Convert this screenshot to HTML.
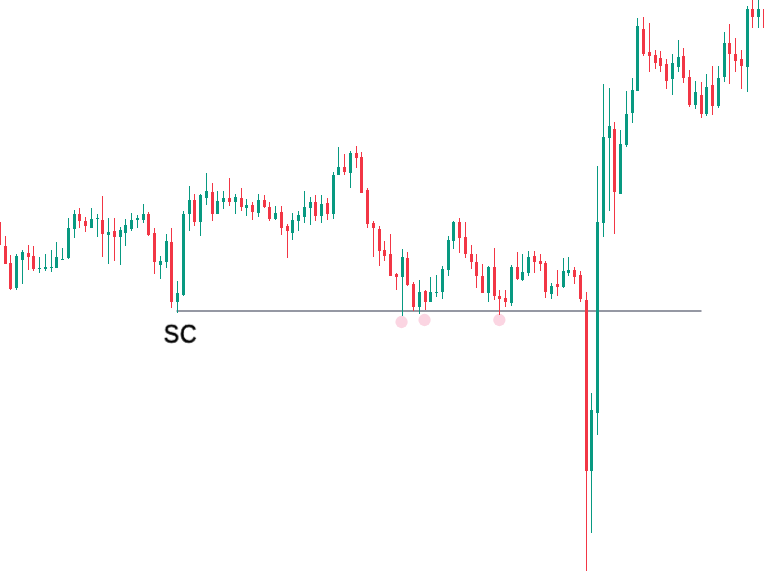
<!DOCTYPE html>
<html><head><meta charset="utf-8"><title>SC chart</title>
<style>
html,body{margin:0;padding:0;background:#fff;}
#c{position:relative;width:765px;height:576px;overflow:hidden;background:#fff;}
svg{position:absolute;left:0;top:0;}
#sc{position:absolute;left:163px;top:319px;font-family:"Liberation Sans",Arial,sans-serif;font-size:25px;line-height:28px;color:#000;letter-spacing:0.8px;-webkit-text-stroke:0.6px #000;transform-origin:0 0;transform:translate(0.65px,-0.3px) scale(0.927,1.03);will-change:transform;}
</style></head><body>
<div id="c">
<svg width="765" height="576" viewBox="0 0 765 576">
<g>
<circle cx="401.55" cy="322" r="6.15" fill="#fbd5e2"/>
<circle cx="424.55" cy="320" r="6.15" fill="#fbd5e2"/>
<circle cx="499.35" cy="320" r="6.15" fill="#fbd5e2"/>
<rect x="176.5" y="310" width="525" height="2" fill="#9598a3"/>
</g>
<g shape-rendering="crispEdges">
<rect x="0" y="222" width="1" height="23" fill="#f23645"/>
<rect x="5" y="236" width="1" height="28" fill="#f23645"/>
<rect x="4" y="246" width="3" height="18" fill="#f23645"/>
<rect x="10" y="255" width="1" height="35" fill="#f23645"/>
<rect x="9" y="263" width="3" height="26" fill="#f23645"/>
<rect x="16" y="254" width="1" height="36" fill="#089981"/>
<rect x="15" y="256" width="3" height="32" fill="#089981"/>
<rect x="22" y="250" width="1" height="34" fill="#089981"/>
<rect x="21" y="252" width="3" height="8" fill="#089981"/>
<rect x="28" y="245" width="1" height="25" fill="#f23645"/>
<rect x="27" y="253" width="3" height="4" fill="#f23645"/>
<rect x="33" y="246" width="1" height="25" fill="#f23645"/>
<rect x="32" y="256" width="3" height="13" fill="#f23645"/>
<rect x="39" y="257" width="1" height="16" fill="#089981"/>
<rect x="38" y="268" width="3" height="1" fill="#089981"/>
<rect x="45" y="254" width="1" height="17" fill="#089981"/>
<rect x="44" y="267" width="3" height="2" fill="#089981"/>
<rect x="51" y="250" width="1" height="22" fill="#089981"/>
<rect x="50" y="267" width="3" height="1" fill="#089981"/>
<rect x="56" y="242" width="1" height="26" fill="#089981"/>
<rect x="55" y="257" width="3" height="11" fill="#089981"/>
<rect x="62" y="248" width="1" height="12" fill="#089981"/>
<rect x="61" y="259" width="3" height="1" fill="#089981"/>
<rect x="68" y="218" width="1" height="41" fill="#089981"/>
<rect x="67" y="228" width="3" height="30" fill="#089981"/>
<rect x="74" y="210" width="1" height="28" fill="#089981"/>
<rect x="73" y="214" width="3" height="15" fill="#089981"/>
<rect x="79" y="208" width="1" height="20" fill="#f23645"/>
<rect x="78" y="214" width="3" height="7" fill="#f23645"/>
<rect x="85" y="217" width="1" height="15" fill="#f23645"/>
<rect x="84" y="221" width="3" height="5" fill="#f23645"/>
<rect x="91" y="208" width="1" height="20" fill="#089981"/>
<rect x="90" y="219" width="3" height="9" fill="#089981"/>
<rect x="97" y="214" width="1" height="23" fill="#089981"/>
<rect x="96" y="218" width="3" height="1" fill="#089981"/>
<rect x="102" y="196" width="1" height="61" fill="#f23645"/>
<rect x="101" y="220" width="3" height="14" fill="#f23645"/>
<rect x="108" y="218" width="1" height="46" fill="#089981"/>
<rect x="107" y="232" width="3" height="3" fill="#089981"/>
<rect x="114" y="218" width="1" height="43" fill="#f23645"/>
<rect x="113" y="231" width="3" height="6" fill="#f23645"/>
<rect x="120" y="227" width="1" height="38" fill="#089981"/>
<rect x="119" y="230" width="3" height="7" fill="#089981"/>
<rect x="125" y="219" width="1" height="27" fill="#089981"/>
<rect x="124" y="225" width="3" height="8" fill="#089981"/>
<rect x="131" y="213" width="1" height="18" fill="#089981"/>
<rect x="130" y="220" width="3" height="9" fill="#089981"/>
<rect x="137" y="215" width="1" height="13" fill="#089981"/>
<rect x="136" y="218" width="3" height="2" fill="#089981"/>
<rect x="143" y="204" width="1" height="19" fill="#089981"/>
<rect x="142" y="214" width="3" height="6" fill="#089981"/>
<rect x="148" y="212" width="1" height="24" fill="#f23645"/>
<rect x="147" y="214" width="3" height="21" fill="#f23645"/>
<rect x="154" y="228" width="1" height="46" fill="#f23645"/>
<rect x="153" y="233" width="3" height="29" fill="#f23645"/>
<rect x="160" y="256" width="1" height="23" fill="#089981"/>
<rect x="159" y="261" width="3" height="4" fill="#089981"/>
<rect x="166" y="234" width="1" height="34" fill="#089981"/>
<rect x="165" y="241" width="3" height="21" fill="#089981"/>
<rect x="171" y="228" width="1" height="80" fill="#f23645"/>
<rect x="170" y="242" width="3" height="60" fill="#f23645"/>
<rect x="177" y="281" width="1" height="32" fill="#089981"/>
<rect x="176" y="293" width="3" height="9" fill="#089981"/>
<rect x="183" y="211" width="1" height="85" fill="#089981"/>
<rect x="182" y="214" width="3" height="81" fill="#089981"/>
<rect x="189" y="186" width="1" height="45" fill="#089981"/>
<rect x="188" y="200" width="3" height="14" fill="#089981"/>
<rect x="194" y="194" width="1" height="32" fill="#f23645"/>
<rect x="193" y="200" width="3" height="22" fill="#f23645"/>
<rect x="200" y="194" width="1" height="42" fill="#089981"/>
<rect x="199" y="195" width="3" height="27" fill="#089981"/>
<rect x="206" y="173" width="1" height="32" fill="#089981"/>
<rect x="205" y="191" width="3" height="7" fill="#089981"/>
<rect x="212" y="183" width="1" height="38" fill="#f23645"/>
<rect x="211" y="192" width="3" height="22" fill="#f23645"/>
<rect x="217" y="191" width="1" height="23" fill="#089981"/>
<rect x="216" y="201" width="3" height="13" fill="#089981"/>
<rect x="223" y="191" width="1" height="18" fill="#089981"/>
<rect x="222" y="198" width="3" height="4" fill="#089981"/>
<rect x="229" y="178" width="1" height="28" fill="#f23645"/>
<rect x="228" y="198" width="3" height="4" fill="#f23645"/>
<rect x="235" y="194" width="1" height="20" fill="#089981"/>
<rect x="234" y="197" width="3" height="5" fill="#089981"/>
<rect x="241" y="188" width="1" height="23" fill="#f23645"/>
<rect x="240" y="198" width="3" height="9" fill="#f23645"/>
<rect x="246" y="199" width="1" height="17" fill="#089981"/>
<rect x="245" y="205" width="3" height="3" fill="#089981"/>
<rect x="252" y="202" width="1" height="18" fill="#f23645"/>
<rect x="251" y="205" width="3" height="7" fill="#f23645"/>
<rect x="258" y="194" width="1" height="23" fill="#089981"/>
<rect x="257" y="200" width="3" height="13" fill="#089981"/>
<rect x="264" y="195" width="1" height="13" fill="#f23645"/>
<rect x="263" y="200" width="3" height="7" fill="#f23645"/>
<rect x="269" y="202" width="1" height="19" fill="#f23645"/>
<rect x="268" y="207" width="3" height="12" fill="#f23645"/>
<rect x="275" y="206" width="1" height="14" fill="#089981"/>
<rect x="274" y="213" width="3" height="6" fill="#089981"/>
<rect x="281" y="206" width="1" height="29" fill="#f23645"/>
<rect x="280" y="212" width="3" height="16" fill="#f23645"/>
<rect x="287" y="224" width="1" height="34" fill="#f23645"/>
<rect x="286" y="226" width="3" height="5" fill="#f23645"/>
<rect x="292" y="213" width="1" height="27" fill="#089981"/>
<rect x="291" y="220" width="3" height="13" fill="#089981"/>
<rect x="298" y="211" width="1" height="20" fill="#089981"/>
<rect x="297" y="215" width="3" height="6" fill="#089981"/>
<rect x="304" y="191" width="1" height="32" fill="#089981"/>
<rect x="303" y="207" width="3" height="10" fill="#089981"/>
<rect x="310" y="197" width="1" height="28" fill="#089981"/>
<rect x="309" y="202" width="3" height="6" fill="#089981"/>
<rect x="315" y="195" width="1" height="26" fill="#f23645"/>
<rect x="314" y="202" width="3" height="14" fill="#f23645"/>
<rect x="321" y="195" width="1" height="28" fill="#089981"/>
<rect x="320" y="204" width="3" height="12" fill="#089981"/>
<rect x="327" y="198" width="1" height="22" fill="#f23645"/>
<rect x="326" y="203" width="3" height="11" fill="#f23645"/>
<rect x="333" y="172" width="1" height="47" fill="#089981"/>
<rect x="332" y="175" width="3" height="39" fill="#089981"/>
<rect x="338" y="147" width="1" height="28" fill="#089981"/>
<rect x="337" y="167" width="3" height="8" fill="#089981"/>
<rect x="344" y="154" width="1" height="21" fill="#f23645"/>
<rect x="343" y="167" width="3" height="5" fill="#f23645"/>
<rect x="350" y="151" width="1" height="37" fill="#089981"/>
<rect x="349" y="153" width="3" height="20" fill="#089981"/>
<rect x="356" y="146" width="1" height="22" fill="#f23645"/>
<rect x="355" y="153" width="3" height="5" fill="#f23645"/>
<rect x="361" y="152" width="1" height="41" fill="#f23645"/>
<rect x="360" y="157" width="3" height="36" fill="#f23645"/>
<rect x="367" y="188" width="1" height="40" fill="#f23645"/>
<rect x="366" y="190" width="3" height="34" fill="#f23645"/>
<rect x="373" y="221" width="1" height="36" fill="#f23645"/>
<rect x="372" y="223" width="3" height="5" fill="#f23645"/>
<rect x="379" y="226" width="1" height="40" fill="#f23645"/>
<rect x="378" y="229" width="3" height="22" fill="#f23645"/>
<rect x="384" y="241" width="1" height="20" fill="#f23645"/>
<rect x="383" y="250" width="3" height="6" fill="#f23645"/>
<rect x="390" y="234" width="1" height="42" fill="#f23645"/>
<rect x="389" y="254" width="3" height="22" fill="#f23645"/>
<rect x="396" y="273" width="1" height="17" fill="#f23645"/>
<rect x="395" y="274" width="3" height="3" fill="#f23645"/>
<rect x="402" y="249" width="1" height="67" fill="#089981"/>
<rect x="401" y="257" width="3" height="20" fill="#089981"/>
<rect x="407" y="252" width="1" height="34" fill="#f23645"/>
<rect x="406" y="258" width="3" height="27" fill="#f23645"/>
<rect x="413" y="282" width="1" height="29" fill="#f23645"/>
<rect x="412" y="284" width="3" height="23" fill="#f23645"/>
<rect x="419" y="280" width="1" height="34" fill="#089981"/>
<rect x="418" y="292" width="3" height="15" fill="#089981"/>
<rect x="425" y="290" width="1" height="20" fill="#f23645"/>
<rect x="424" y="291" width="3" height="11" fill="#f23645"/>
<rect x="430" y="277" width="1" height="25" fill="#089981"/>
<rect x="429" y="292" width="3" height="10" fill="#089981"/>
<rect x="436" y="275" width="1" height="22" fill="#089981"/>
<rect x="435" y="292" width="3" height="1" fill="#089981"/>
<rect x="442" y="266" width="1" height="33" fill="#089981"/>
<rect x="441" y="269" width="3" height="23" fill="#089981"/>
<rect x="448" y="236" width="1" height="40" fill="#089981"/>
<rect x="447" y="240" width="3" height="30" fill="#089981"/>
<rect x="453" y="221" width="1" height="28" fill="#089981"/>
<rect x="452" y="222" width="3" height="19" fill="#089981"/>
<rect x="459" y="218" width="1" height="35" fill="#f23645"/>
<rect x="458" y="222" width="3" height="16" fill="#f23645"/>
<rect x="465" y="222" width="1" height="36" fill="#f23645"/>
<rect x="464" y="237" width="3" height="17" fill="#f23645"/>
<rect x="471" y="245" width="1" height="24" fill="#f23645"/>
<rect x="470" y="254" width="3" height="8" fill="#f23645"/>
<rect x="476" y="254" width="1" height="34" fill="#f23645"/>
<rect x="475" y="262" width="3" height="14" fill="#f23645"/>
<rect x="482" y="264" width="1" height="29" fill="#f23645"/>
<rect x="481" y="276" width="3" height="17" fill="#f23645"/>
<rect x="488" y="266" width="1" height="36" fill="#089981"/>
<rect x="487" y="267" width="3" height="26" fill="#089981"/>
<rect x="494" y="248" width="1" height="52" fill="#f23645"/>
<rect x="493" y="267" width="3" height="29" fill="#f23645"/>
<rect x="499" y="290" width="1" height="25" fill="#f23645"/>
<rect x="498" y="296" width="3" height="3" fill="#f23645"/>
<rect x="505" y="290" width="1" height="17" fill="#f23645"/>
<rect x="504" y="298" width="3" height="4" fill="#f23645"/>
<rect x="511" y="265" width="1" height="41" fill="#089981"/>
<rect x="510" y="267" width="3" height="36" fill="#089981"/>
<rect x="517" y="252" width="1" height="28" fill="#f23645"/>
<rect x="516" y="267" width="3" height="12" fill="#f23645"/>
<rect x="522" y="254" width="1" height="27" fill="#089981"/>
<rect x="521" y="272" width="3" height="8" fill="#089981"/>
<rect x="528" y="251" width="1" height="25" fill="#089981"/>
<rect x="527" y="257" width="3" height="16" fill="#089981"/>
<rect x="534" y="251" width="1" height="22" fill="#f23645"/>
<rect x="533" y="256" width="3" height="6" fill="#f23645"/>
<rect x="540" y="254" width="1" height="17" fill="#f23645"/>
<rect x="539" y="261" width="3" height="3" fill="#f23645"/>
<rect x="545" y="261" width="1" height="37" fill="#f23645"/>
<rect x="544" y="263" width="3" height="29" fill="#f23645"/>
<rect x="551" y="283" width="1" height="16" fill="#089981"/>
<rect x="550" y="286" width="3" height="8" fill="#089981"/>
<rect x="557" y="270" width="1" height="26" fill="#f23645"/>
<rect x="556" y="284" width="3" height="3" fill="#f23645"/>
<rect x="563" y="258" width="1" height="30" fill="#089981"/>
<rect x="562" y="271" width="3" height="16" fill="#089981"/>
<rect x="568" y="257" width="1" height="19" fill="#089981"/>
<rect x="567" y="270" width="3" height="3" fill="#089981"/>
<rect x="574" y="267" width="1" height="17" fill="#f23645"/>
<rect x="573" y="270" width="3" height="7" fill="#f23645"/>
<rect x="580" y="271" width="1" height="31" fill="#f23645"/>
<rect x="579" y="275" width="3" height="24" fill="#f23645"/>
<rect x="586" y="292" width="1" height="279" fill="#f23645"/>
<rect x="585" y="300" width="3" height="171" fill="#f23645"/>
<rect x="591" y="393" width="1" height="140" fill="#089981"/>
<rect x="590" y="410" width="3" height="61" fill="#089981"/>
<rect x="597" y="166" width="1" height="269" fill="#089981"/>
<rect x="596" y="222" width="3" height="191" fill="#089981"/>
<rect x="603" y="84" width="1" height="153" fill="#089981"/>
<rect x="602" y="137" width="3" height="86" fill="#089981"/>
<rect x="609" y="88" width="1" height="123" fill="#089981"/>
<rect x="608" y="126" width="3" height="12" fill="#089981"/>
<rect x="614" y="122" width="1" height="112" fill="#f23645"/>
<rect x="613" y="129" width="3" height="63" fill="#f23645"/>
<rect x="620" y="130" width="1" height="64" fill="#089981"/>
<rect x="619" y="144" width="3" height="50" fill="#089981"/>
<rect x="626" y="91" width="1" height="56" fill="#089981"/>
<rect x="625" y="114" width="3" height="31" fill="#089981"/>
<rect x="632" y="78" width="1" height="45" fill="#089981"/>
<rect x="631" y="90" width="3" height="23" fill="#089981"/>
<rect x="637" y="18" width="1" height="73" fill="#089981"/>
<rect x="636" y="26" width="3" height="65" fill="#089981"/>
<rect x="643" y="17" width="1" height="39" fill="#f23645"/>
<rect x="642" y="29" width="3" height="25" fill="#f23645"/>
<rect x="649" y="23" width="1" height="49" fill="#f23645"/>
<rect x="648" y="52" width="3" height="4" fill="#f23645"/>
<rect x="655" y="50" width="1" height="19" fill="#f23645"/>
<rect x="654" y="55" width="3" height="8" fill="#f23645"/>
<rect x="660" y="51" width="1" height="21" fill="#f23645"/>
<rect x="659" y="58" width="3" height="8" fill="#f23645"/>
<rect x="666" y="59" width="1" height="30" fill="#f23645"/>
<rect x="665" y="64" width="3" height="17" fill="#f23645"/>
<rect x="672" y="54" width="1" height="41" fill="#089981"/>
<rect x="671" y="63" width="3" height="16" fill="#089981"/>
<rect x="678" y="40" width="1" height="32" fill="#089981"/>
<rect x="677" y="57" width="3" height="10" fill="#089981"/>
<rect x="683" y="48" width="1" height="35" fill="#f23645"/>
<rect x="682" y="56" width="3" height="22" fill="#f23645"/>
<rect x="689" y="70" width="1" height="37" fill="#f23645"/>
<rect x="688" y="77" width="3" height="28" fill="#f23645"/>
<rect x="695" y="81" width="1" height="28" fill="#089981"/>
<rect x="694" y="92" width="3" height="13" fill="#089981"/>
<rect x="701" y="82" width="1" height="36" fill="#f23645"/>
<rect x="700" y="95" width="3" height="19" fill="#f23645"/>
<rect x="706" y="74" width="1" height="42" fill="#089981"/>
<rect x="705" y="87" width="3" height="27" fill="#089981"/>
<rect x="712" y="66" width="1" height="49" fill="#f23645"/>
<rect x="711" y="85" width="3" height="21" fill="#f23645"/>
<rect x="718" y="66" width="1" height="42" fill="#089981"/>
<rect x="717" y="78" width="3" height="28" fill="#089981"/>
<rect x="724" y="32" width="1" height="50" fill="#089981"/>
<rect x="723" y="43" width="3" height="34" fill="#089981"/>
<rect x="729" y="24" width="1" height="60" fill="#f23645"/>
<rect x="728" y="43" width="3" height="11" fill="#f23645"/>
<rect x="735" y="38" width="1" height="34" fill="#f23645"/>
<rect x="734" y="54" width="3" height="7" fill="#f23645"/>
<rect x="741" y="50" width="1" height="39" fill="#f23645"/>
<rect x="740" y="59" width="3" height="7" fill="#f23645"/>
<rect x="747" y="6" width="1" height="86" fill="#089981"/>
<rect x="746" y="9" width="3" height="58" fill="#089981"/>
<rect x="752" y="-2" width="1" height="30" fill="#f23645"/>
<rect x="751" y="9" width="3" height="8" fill="#f23645"/>
<rect x="758" y="-2" width="1" height="30" fill="#089981"/>
<rect x="757" y="9" width="3" height="8" fill="#089981"/>
<rect x="763" y="9" width="1" height="19" fill="#f23645"/>
</g>
</svg>
<div id="sc">SC</div>
</div>
</body></html>
